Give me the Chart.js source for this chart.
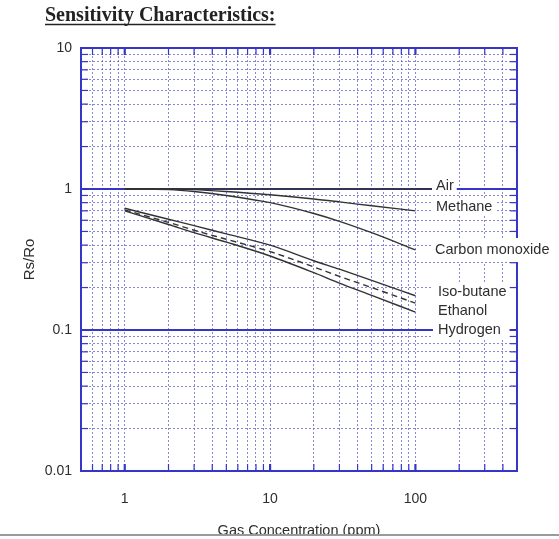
<!DOCTYPE html>
<html>
<head>
<meta charset="utf-8">
<script src="https://cdn.jsdelivr.net/npm/chart.js@4"></script>
<style>
  html, body { margin: 0; padding: 0; background: #fff; }
  #wrap { width: 559px; height: 539px; position: relative; }
</style>
</head>
<body>
<div id="wrap"><canvas id="c" width="559" height="539"></canvas></div>
<script>
// ---- data ----
const concentration = [1, 2, 3, 5, 10, 20, 30, 50, 100];
const air       = [1.00, 1.00, 1.00, 1.00, 1.00, 1.00, 1.00, 1.00, 1.00];
const methane   = [1.00, 1.00, 0.99, 0.96, 0.91, 0.85, 0.81, 0.76, 0.70];
const carbonMonoxide = [1.00, 0.99, 0.96, 0.90, 0.80, 0.67, 0.59, 0.49, 0.37];
const isoButane = [0.73, 0.61, 0.55, 0.48, 0.40, 0.31, 0.27, 0.225, 0.175];
const ethanol   = [0.71, 0.58, 0.51, 0.44, 0.36, 0.28, 0.24, 0.20, 0.155];
const hydrogen  = [0.70, 0.56, 0.49, 0.42, 0.335, 0.255, 0.215, 0.176, 0.134];

const seriesNames = ['Air', 'Methane', 'Carbon monoxide', 'Iso-butane', 'Ethanol', 'Hydrogen'];

const xTickValues = [0.5, 0.6, 0.7, 0.8, 0.9, 1, 2, 3, 4, 5, 6, 7, 8, 9, 10, 20, 30, 40, 50, 60, 70, 80, 90, 100, 200, 300, 400, 500];
const xTickLabels = [1, 10, 100];
const yTickValues = [0.01, 0.02, 0.03, 0.04, 0.05, 0.06, 0.07, 0.08, 0.09, 0.1, 0.2, 0.3, 0.4, 0.5, 0.6, 0.7, 0.8, 0.9, 1, 2, 3, 4, 5, 6, 7, 8, 9, 10];
const yTickLabels = [0.01, 0.1, 1, 10];
const yMajorLines = [0.1, 1];

const BLUE = '#3535c8';
const GRID = 'rgba(95,95,200,0.75)';
const INK = '#2e2e2e';
const SANS = "'Liberation Sans', Arial, sans-serif";

const pts = arr => concentration.map((c, i) => ({ x: c, y: arr[i] }));
const ds = (label, arr, dash) => ({
  label, data: pts(arr), borderColor: '#333', borderWidth: 1.4,
  borderDash: dash || [], pointRadius: 0, fill: false,
  cubicInterpolationMode: 'monotone'
});

const decor = {
  id: 'decor',
  beforeDatasetsDraw(chart) {
    const { ctx, chartArea: a, scales: { x, y } } = chart;
    ctx.save();
    const line = (x1, y1, x2, y2) => { ctx.beginPath(); ctx.moveTo(x1, y1); ctx.lineTo(x2, y2); ctx.stroke(); };
    ctx.strokeStyle = BLUE;
    ctx.lineWidth = 2;
    yMajorLines.forEach(v => { const p = y.getPixelForValue(v); line(a.left, p, a.right, p); });
    ctx.lineWidth = 1.2;
    y.ticks.forEach(t => {
      const p = y.getPixelForValue(t.value);
      line(a.left, p, a.left + 7, p);
      line(a.right - 7, p, a.right, p);
    });
    x.ticks.forEach(t => {
      const p = x.getPixelForValue(t.value);
      const maj = xTickLabels.includes(t.value);
      ctx.lineWidth = maj ? 2.2 : 1.2;
      line(p, a.bottom, p, a.bottom - 7);
      line(p, a.top, p, a.top + 7);
    });
    ctx.lineWidth = 2;
    ctx.strokeRect(a.left, a.top, a.right - a.left, a.bottom - a.top);
    ctx.restore();
  },
  afterDatasetsDraw(chart) {
    const { ctx, scales: { x, y } } = chart;
    ctx.save();
    // Air leader line from curve end toward its label
    const ay = y.getPixelForValue(1);
    ctx.strokeStyle = '#333'; ctx.lineWidth = 1.6;
    ctx.beginPath(); ctx.moveTo(x.getPixelForValue(100), ay); ctx.lineTo(432, ay); ctx.stroke();

    ctx.font = '14.5px ' + SANS;
    ctx.textBaseline = 'middle';
    ctx.textAlign = 'left';
    const box = (x0, y0, x1, y1) => { ctx.fillStyle = '#fff'; ctx.fillRect(x0, y0, x1 - x0, y1 - y0); };
    const w = s => ctx.measureText(s).width;
    box(432, 178, 436 + w(seriesNames[0]) + 3, 195);
    box(432, 198, 436 + w(seriesNames[1]) + 3, 216);
    box(431, 238, 559, 262);
    const gw = Math.max(w(seriesNames[3]), w(seriesNames[4]), w(seriesNames[5]));
    box(433, 282, 438 + gw + 3, 339);
    ctx.fillStyle = INK;
    ctx.fillText(seriesNames[0], 436, 186);
    ctx.fillText(seriesNames[1], 436, 207);
    ctx.fillText(seriesNames[2], 435, 250);
    ctx.fillText(seriesNames[3], 438, 292);
    ctx.fillText(seriesNames[4], 438, 311);
    ctx.fillText(seriesNames[5], 438, 330);
    ctx.restore();
  },
  afterDraw(chart) {
    const { ctx } = chart;
    ctx.save();
    ctx.font = "bold 20px 'Liberation Serif', 'Times New Roman', serif";
    ctx.fillStyle = '#222';
    ctx.textBaseline = 'alphabetic';
    ctx.textAlign = 'left';
    const t = 'Sensitivity Characteristics:';
    ctx.fillText(t, 45, 21);
    const tw = ctx.measureText(t).width;
    ctx.strokeStyle = '#222'; ctx.lineWidth = 1.5;
    ctx.beginPath(); ctx.moveTo(45, 24.5); ctx.lineTo(45 + tw, 24.5); ctx.stroke();
    ctx.fillStyle = '#fff'; ctx.fillRect(0, 535, 559, 4);
    ctx.strokeStyle = '#9a9a9a'; ctx.lineWidth = 2;
    ctx.beginPath(); ctx.moveTo(0, 535); ctx.lineTo(559, 535); ctx.stroke();
    ctx.restore();
  }
};

new Chart(document.getElementById('c'), {
  type: 'line',
  data: {
    datasets: [
      ds(seriesNames[0], air),
      ds(seriesNames[1], methane),
      ds(seriesNames[2], carbonMonoxide),
      ds(seriesNames[3], isoButane),
      ds(seriesNames[4], ethanol, [6, 4]),
      ds(seriesNames[5], hydrogen)
    ]
  },
  options: {
    responsive: false,
    animation: false,
    devicePixelRatio: 1,
    layout: { padding: { top: 48, left: 0, right: 42, bottom: 0 } },
    plugins: { legend: { display: false }, title: { display: false }, tooltip: { enabled: false } },
    scales: {
      x: {
        type: 'logarithmic', min: 0.5, max: 500,
        afterBuildTicks: s => { s.ticks = xTickValues.map(v => ({ value: v })); },
        afterFit: s => { s.height = 68; },
        ticks: {
          autoSkip: false, maxRotation: 0, padding: 20,
          font: { family: SANS, size: 14 }, color: INK,
          callback: v => xTickLabels.includes(v) ? String(v) : ''
        },
        grid: {
          drawTicks: false, lineWidth: 1,
          color: c => (c.tick && (c.tick.value === 0.5 || c.tick.value === 500)) ? 'rgba(0,0,0,0)' : GRID
        },
        border: { display: false, dash: [2, 2] },
        title: { display: true, text: 'Gas Concentration (ppm)', color: INK,
          font: { family: SANS, size: 14.5 }, padding: { top: 0, bottom: -1 } }
      },
      y: {
        type: 'logarithmic', min: 0.01, max: 10,
        afterBuildTicks: s => { s.ticks = yTickValues.map(v => ({ value: v })); },
        afterFit: s => { s.width = 81; },
        ticks: {
          autoSkip: false, padding: 9,
          font: { family: SANS, size: 14 }, color: INK,
          callback: v => yTickLabels.includes(v) ? String(v) : ''
        },
        grid: {
          drawTicks: false, lineWidth: 1,
          color: c => (c.tick && [0.01, 0.1, 1, 10].includes(c.tick.value)) ? 'rgba(0,0,0,0)' : GRID
        },
        border: { display: false, dash: [2, 2] },
        title: { display: true, text: 'Rs/Ro', color: INK,
          font: { family: SANS, size: 15 }, padding: { top: 21, bottom: 0 } }
      }
    }
  },
  plugins: [decor]
});
</script>
</body>
</html>
